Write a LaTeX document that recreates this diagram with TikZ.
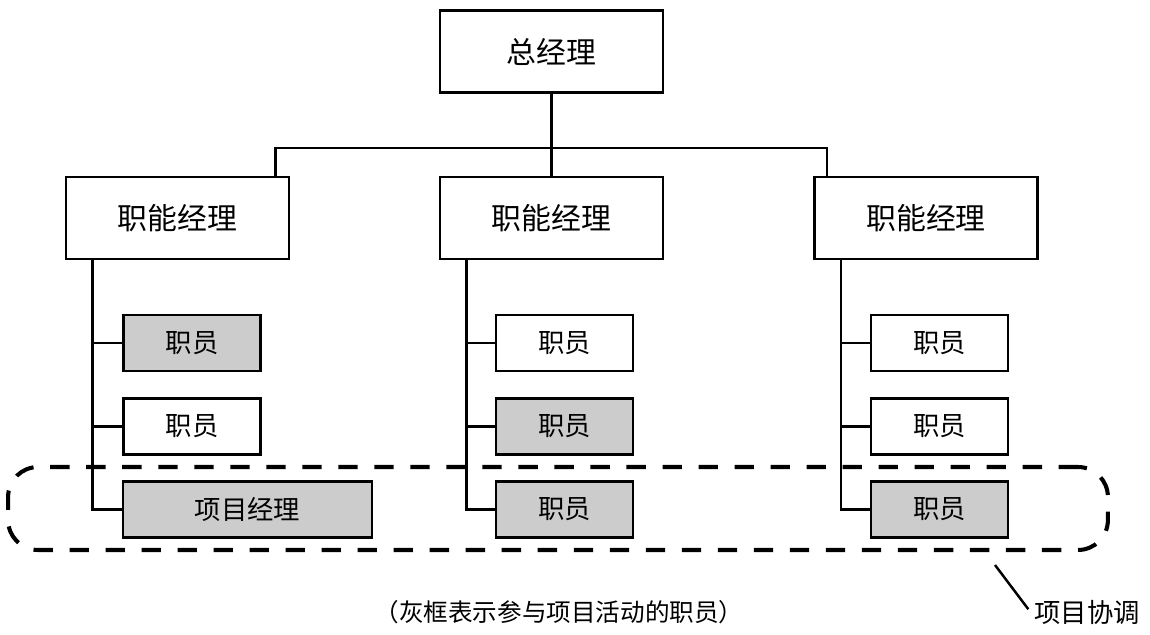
\documentclass[tikz,border=0pt]{standalone}
\usepackage{fontspec}
\setmainfont{Noto Sans CJK SC}
\usetikzlibrary{calc}

\begin{document}
\begin{tikzpicture}[
        x=0.02cm, y=-0.02cm,
        mgrbox/.style={
            draw,
            line width=1.6pt,
            minimum width=4.46cm,
            minimum height=1.64cm,
            inner sep=0pt,
            font=\fontsize{17}{20}\selectfont
        },
        staffbox/.style={
            draw,
            line width=1.5pt,
            minimum width=2.74cm,
            minimum height=1.12cm,
            inner sep=0pt,
            font=\fontsize{15}{18}\selectfont
        },
        activebox/.style={staffbox, fill=gray!40},
        link/.style={line width=1.4pt},
        projframe/.style={
            draw,
            line width=2.3pt,
            dash pattern=on 11pt off 9.5pt,
            rounded corners=17pt,
            minimum width=22cm,
            minimum height=1.66cm
        },
        notetext/.style={font=\fontsize{15}{18}\selectfont, inner sep=2pt}
    ]

    \useasboundingbox (0,0) rectangle (1150,635);

    % managers
    \node[mgrbox] (gm) at (551.5,51.5) {总经理};
    \node[mgrbox] (fm1) at (177.5,218) {职能经理};
    \node[mgrbox] (fm2) at (551.5,218) {职能经理};
    \node[mgrbox] (fm3) at (926,218) {职能经理};

    % staff, grey = in the project
    \node[activebox] (s11) at (192,343) {职员};
    \node[staffbox] (s12) at (192,426.5) {职员};
    \node[activebox, minimum width=4.98cm] (pm) at (247.5,509.5) {项目经理};

    \node[staffbox] (s21) at (564.5,343) {职员};
    \node[activebox] (s22) at (564.5,426.5) {职员};
    \node[activebox] (s23) at (564.5,509.5) {职员};

    \node[staffbox] (s31) at (939.5,343) {职员};
    \node[staffbox] (s32) at (939.5,426.5) {职员};
    \node[activebox] (s33) at (939.5,509.5) {职员};

    % tree lines
    \coordinate (bus) at (551.5,148);
    \draw[link] (gm.south) -- (fm2.north);
    \draw[link] ($(fm1.north east)+(-15,0)$) |- (bus) -| ($(fm3.north west)+(14,0)$);

    \coordinate (t1) at ($(fm1.south west)+(28,0)$);
    \coordinate (t2) at ($(fm2.south west)+(28,0)$);
    \coordinate (t3) at ($(fm3.south west)+(28,0)$);

    \draw[link] (t1) |- (pm.west);
    \draw[link] (s11.west) -- (s11.west -| t1);
    \draw[link] (s12.west) -- (s12.west -| t1);

    \draw[link] (t2) |- (s23.west);
    \draw[link] (s21.west) -- (s21.west -| t2);
    \draw[link] (s22.west) -- (s22.west -| t2);

    \draw[link] (t3) |- (s33.west);
    \draw[link] (s31.west) -- (s31.west -| t3);
    \draw[link] (s32.west) -- (s32.west -| t3);

    % project coordination
    \node[projframe] (proj) at (558,508.5) {};
    \node[notetext] (coord) at (1087,612) {项目协调};
    \coordinate (tip) at (995,565);
    \draw[line width=1.4pt, shorten >=2pt] (tip) -- (coord.west);

    \node[notetext, font=\fontsize{14}{17}\selectfont] (caption) at (559,612) {（灰框表示参与项目活动的职员）};

\end{tikzpicture}
\end{document}
